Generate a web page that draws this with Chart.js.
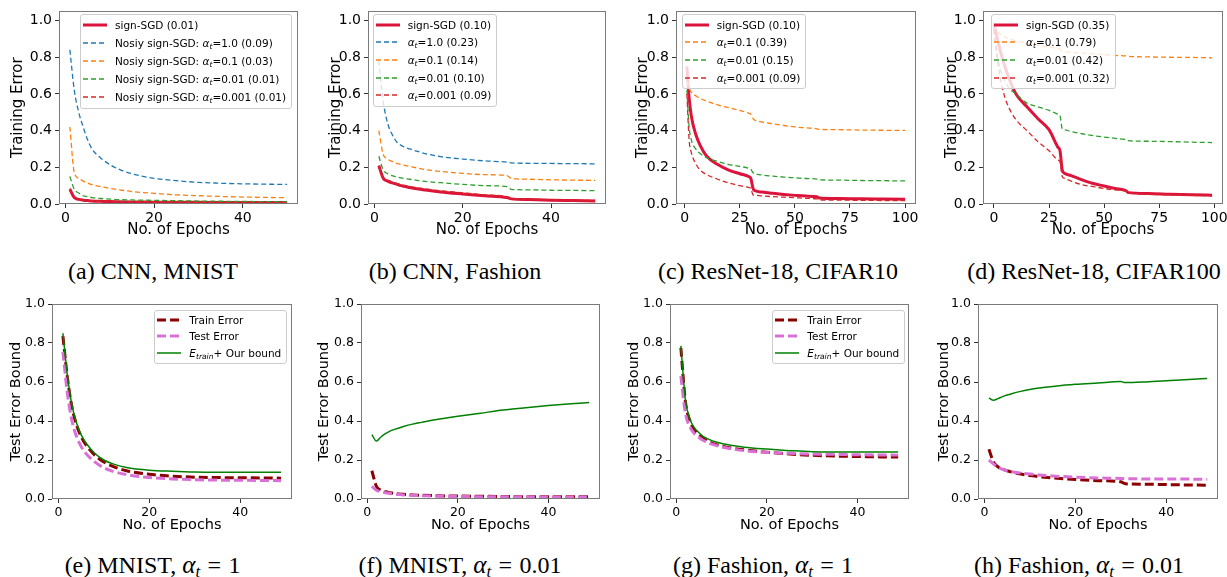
<!DOCTYPE html>
<html><head><meta charset="utf-8">
<script src="https://cdn.jsdelivr.net/npm/chart.js@4.4.0/dist/chart.umd.min.js"></script>
<style>
html,body{margin:0;padding:0;background:#fff;width:1227px;height:577px;overflow:hidden;position:relative;}
canvas{position:absolute;}
.cap{position:absolute;font-family:"Liberation Serif","Times New Roman",serif;font-size:24px;line-height:24px;white-space:nowrap;transform:translateX(-50%);color:#000;}
.cap sub{font-size:0.7em;vertical-align:-0.25em;line-height:0;}
.cap .al{font-size:1.05em;}
.cap .eq{display:inline-block;width:0.78em;text-align:center;margin:0 0.2em;}
.leg{position:absolute;background:rgba(255,255,255,0.8);border:1px solid #ccc;border-radius:3px;font-family:"DejaVu Sans",sans-serif;font-size:10.5px;color:#000;padding:1px 5px 2px 2px;}
.leg .row{display:flex;align-items:center;white-space:nowrap;}
.leg svg{margin-right:8px;flex:none;}
.leg sub{font-size:0.72em;vertical-align:-0.3em;line-height:0;}
</style></head><body>
<script>
// ---------- tick labels ----------
const xTicks50 = [0, 20, 40];
const xTicks100 = [0, 25, 50, 75, 100];
const yTicks = [0, 0.2, 0.4, 0.6, 0.8, 1.0];

// ---------- (a) CNN, MNIST ----------
const epochsA = [1,2,3,4,5,6,8,10,12,15,20,25,30,35,40,45,50];
const aSign  = [0.08,0.035,0.025,0.021,0.019,0.017,0.015,0.013,0.012,0.011,0.01,0.009,0.009,0.008,0.008,0.008,0.008];
const aN1    = [0.84,0.62,0.5,0.42,0.35,0.3,0.25,0.215,0.19,0.165,0.14,0.127,0.118,0.113,0.11,0.108,0.107];
const aN01   = [0.42,0.17,0.14,0.125,0.115,0.105,0.095,0.085,0.078,0.068,0.058,0.05,0.045,0.041,0.038,0.036,0.034];
const aN001  = [0.15,0.08,0.06,0.045,0.04,0.035,0.03,0.027,0.024,0.022,0.02,0.018,0.016,0.015,0.014,0.013,0.012];
const aN0001 = [0.085,0.04,0.028,0.022,0.019,0.017,0.015,0.013,0.012,0.011,0.01,0.01,0.009,0.009,0.009,0.008,0.008];
const labelsA = ['sign-SGD (0.01)','Nosiy sign-SGD: α_{t}=1.0 (0.09)','Nosiy sign-SGD: α_{t}=0.1 (0.03)','Nosiy sign-SGD: α_{t}=0.01 (0.01)','Nosiy sign-SGD: α_{t}=0.001 (0.01)'];

// ---------- (b) CNN, Fashion ----------
const epochsB = [1,2,3,4,5,6,8,10,12,15,20,25,30,31,35,40,45,50];
const bSign  = [0.21,0.14,0.125,0.115,0.108,0.1,0.09,0.082,0.075,0.066,0.055,0.045,0.035,0.028,0.024,0.021,0.019,0.017];
const bN1    = [0.78,0.56,0.44,0.38,0.34,0.32,0.3,0.285,0.272,0.258,0.245,0.235,0.228,0.224,0.222,0.221,0.22,0.219];
const bN01   = [0.4,0.27,0.245,0.232,0.222,0.215,0.205,0.195,0.186,0.178,0.167,0.16,0.155,0.14,0.135,0.132,0.13,0.129];
const bN001  = [0.26,0.185,0.165,0.155,0.148,0.142,0.135,0.128,0.122,0.116,0.107,0.1,0.095,0.08,0.077,0.075,0.074,0.073];
const bN0001 = [0.2,0.145,0.13,0.12,0.113,0.106,0.096,0.088,0.081,0.072,0.061,0.05,0.04,0.03,0.026,0.023,0.021,0.019];
const labelsB = ['sign-SGD (0.10)','α_{t}=1.0 (0.23)','α_{t}=0.1 (0.14)','α_{t}=0.01 (0.10)','α_{t}=0.001 (0.09)'];

// ---------- (c) ResNet-18, CIFAR10 ----------
const epochsC = [1,2,3,5,7,10,15,20,25,29,30,31,32,35,40,45,50,55,60,61,70,80,90,100];
const cSign  = [0.75,0.58,0.48,0.38,0.32,0.26,0.215,0.185,0.165,0.15,0.14,0.085,0.072,0.065,0.058,0.052,0.047,0.043,0.04,0.033,0.03,0.028,0.027,0.026];
const cN01   = [0.67,0.63,0.61,0.59,0.575,0.56,0.54,0.525,0.51,0.495,0.49,0.465,0.455,0.447,0.437,0.428,0.42,0.415,0.41,0.407,0.405,0.403,0.402,0.401];
const cN001  = [0.62,0.42,0.35,0.3,0.275,0.252,0.232,0.215,0.205,0.195,0.19,0.17,0.165,0.158,0.152,0.147,0.143,0.139,0.136,0.132,0.13,0.128,0.127,0.126];
const cN0001 = [0.6,0.35,0.28,0.22,0.185,0.16,0.135,0.115,0.1,0.09,0.085,0.05,0.048,0.044,0.04,0.037,0.034,0.031,0.028,0.022,0.021,0.02,0.019,0.018];
const labelsC = ['sign-SGD (0.10)','α_{t}=0.1 (0.39)','α_{t}=0.01 (0.15)','α_{t}=0.001 (0.09)'];

// ---------- (d) ResNet-18, CIFAR100 ----------
const epochsD = [0,1,2,3,5,7,10,15,20,25,29,30,31,32,35,40,45,50,55,60,61,70,80,90,99];
const dSign  = [0.98,0.93,0.88,0.83,0.75,0.68,0.6,0.53,0.465,0.405,0.31,0.29,0.185,0.168,0.155,0.132,0.112,0.098,0.085,0.072,0.062,0.057,0.053,0.05,0.048];
const dN01   = [0.98,0.95,0.935,0.925,0.91,0.9,0.89,0.875,0.865,0.855,0.848,0.845,0.835,0.832,0.828,0.823,0.818,0.814,0.81,0.807,0.805,0.802,0.8,0.799,0.797];
const dN001  = [0.95,0.85,0.78,0.73,0.67,0.63,0.6,0.55,0.53,0.51,0.49,0.48,0.41,0.405,0.395,0.383,0.373,0.365,0.358,0.35,0.345,0.342,0.34,0.337,0.335];
const dN0001 = [0.95,0.85,0.75,0.68,0.58,0.52,0.46,0.4,0.34,0.29,0.24,0.23,0.15,0.14,0.125,0.105,0.095,0.085,0.077,0.07,0.06,0.053,0.05,0.047,0.045];
const labelsD = ['sign-SGD (0.35)','α_{t}=0.1 (0.79)','α_{t}=0.01 (0.42)','α_{t}=0.001 (0.32)'];

// ---------- bottom row ----------
const labelsBound = ['Train Error','Test Error','E_{train}+ Our bound'];
const epochsE = [1,2,3,4,5,6,8,10,12,15,20,25,30,35,40,45,49];
// (e) MNIST, alpha=1
const eTrain = [0.835,0.62,0.47,0.38,0.32,0.28,0.225,0.19,0.167,0.145,0.127,0.117,0.112,0.11,0.109,0.108,0.107];
const eTest  = [0.755,0.54,0.4,0.32,0.27,0.235,0.19,0.16,0.142,0.125,0.11,0.103,0.099,0.097,0.096,0.095,0.094];
const eBound = [0.85,0.63,0.48,0.39,0.33,0.29,0.235,0.2,0.18,0.162,0.148,0.142,0.138,0.137,0.137,0.137,0.137];
// (f) MNIST, alpha=0.01
const fTrain = [0.145,0.065,0.045,0.037,0.032,0.028,0.024,0.021,0.019,0.017,0.015,0.014,0.013,0.012,0.012,0.011,0.011];
const fTest  = [0.065,0.045,0.038,0.032,0.028,0.025,0.021,0.019,0.017,0.015,0.013,0.012,0.011,0.011,0.01,0.01,0.01];
const fBound = [0.33,0.297,0.318,0.335,0.348,0.357,0.372,0.384,0.393,0.406,0.424,0.44,0.456,0.468,0.479,0.488,0.495];
// (g) Fashion, alpha=1
const gTrain = [0.775,0.5,0.4,0.355,0.33,0.31,0.285,0.272,0.262,0.252,0.24,0.231,0.224,0.22,0.218,0.216,0.215];
const gTest  = [0.63,0.44,0.37,0.335,0.315,0.3,0.28,0.267,0.258,0.248,0.239,0.234,0.231,0.229,0.227,0.226,0.225];
const gBound = [0.785,0.51,0.41,0.365,0.34,0.32,0.298,0.285,0.276,0.266,0.256,0.248,0.242,0.241,0.241,0.241,0.241];
// (h) Fashion, alpha=0.01
const epochsH = [1,2,3,4,5,6,8,10,12,15,20,25,30,31,35,40,45,49];
const hTrain = [0.255,0.19,0.165,0.153,0.145,0.138,0.128,0.12,0.115,0.108,0.1,0.094,0.088,0.078,0.076,0.074,0.072,0.071];
const hTest  = [0.2,0.18,0.163,0.152,0.145,0.14,0.133,0.128,0.123,0.118,0.112,0.108,0.105,0.104,0.103,0.102,0.102,0.101];
const hBound = [0.518,0.506,0.515,0.525,0.533,0.54,0.552,0.562,0.569,0.577,0.588,0.595,0.602,0.597,0.6,0.607,0.613,0.618];

const captions = ['(a) CNN, MNIST','(b) CNN, Fashion','(c) ResNet-18, CIFAR10','(d) ResNet-18, CIFAR100',
  '(e) MNIST, α_{t} = 1','(f) MNIST, α_{t} = 0.01','(g) Fashion, α_{t} = 1','(h) Fashion, α_{t} = 0.01'];

// ---------- styles ----------
const STY = {
  sign:  {color:'#dc143c', width:3,   dash:[]},
  blue:  {color:'#1f77b4', width:1.3, dash:[5,3]},
  orange:{color:'#ff7f0e', width:1.3, dash:[5,3]},
  green: {color:'#2ca02c', width:1.3, dash:[5,3]},
  red:   {color:'#d62728', width:1.3, dash:[5,3]},
  train: {color:'#8b0000', width:3,   dash:[9,4]},
  test:  {color:'#da70d6', width:3,   dash:[9,4]},
  bound: {color:'#008000', width:1.5, dash:[]}
};
const ROWS = [
  {aT:8,   aB:204, xTitleY:230, tick:14, title:15,   padTop:8,  ytext:'Training Error', capTop:259},
  {aT:304, aB:499, xTitleY:525, tick:12.5, title:14.5, padTop:12, ytext:'Test Error Bound', capTop:552.5}
];

const panels = [
  {row:0, x:epochsA, s:[aSign,aN1,aN01,aN001,aN0001], lab:labelsA, st:['sign','blue','orange','green','red'], xr:[-1.45,52.45], xt:xTicks50, yMax:1.05, aL:59, aR:298, ytx:18, leg:{l:80,t:14,rh:18}, cap:153},
  {row:0, x:epochsB, s:[bSign,bN1,bN01,bN001,bN0001], lab:labelsB, st:['sign','blue','orange','green','red'], xr:[-1.45,52.45], xt:xTicks50, yMax:1.05, aL:368, aR:606, ytx:336, leg:{l:372.7,t:14,rh:17.6}, cap:455},
  {row:0, x:epochsC, s:[cSign,cN01,cN001,cN0001], lab:labelsC, st:['sign','orange','green','red'], xr:[-3.95,104.95], xt:xTicks100, yMax:1.05, aL:676, aR:916, ytx:643, leg:{l:681.7,t:14,rh:17.6}, cap:778},
  {row:0, x:epochsD, s:[dSign,dN01,dN001,dN0001], lab:labelsD, st:['sign','orange','green','red'], xr:[-4.95,103.95], xt:xTicks100, yMax:1.05, aL:983, aR:1223, ytx:952, leg:{l:991,t:14,rh:17.6}, cap:1094},
  {row:1, x:epochsE, s:[eTrain,eTest,eBound], lab:labelsBound, st:['train','test','bound'], xr:[-1.4,51.4], xt:xTicks50, yMax:1.0, aL:52, aR:292, ytx:16.7, leg:{l:154.3,t:310,rh:16.3}, cap:152.5},
  {row:1, x:epochsE, s:[fTrain,fTest,fBound], lab:labelsBound, st:['train','test','bound'], xr:[-1.4,51.4], xt:xTicks50, yMax:1.0, aL:361, aR:600, ytx:325, leg:null, cap:460},
  {row:1, x:epochsE, s:[gTrain,gTest,gBound], lab:labelsBound, st:['train','test','bound'], xr:[-1.4,51.4], xt:xTicks50, yMax:1.0, aL:670, aR:909, ytx:635, leg:{l:772.3,t:310,rh:16.3}, cap:763},
  {row:1, x:epochsH, s:[hTrain,hTest,hBound], lab:labelsBound, st:['train','test','bound'], xr:[-1.4,51.4], xt:xTicks50, yMax:1.0, aL:978, aR:1218, ytx:945, leg:null, cap:1079}
];

function fmt(s){ return s.replace(/([A-Za-zα])_\{([^}]*)\}/g, '<i>$1</i><sub><i>$2</i></sub>'); }
function fmtCap(s){
  return s.replace(/α_\{([^}]*)\} = (\S+)/g, '<i class="al">α</i><sub><i>$1</i></sub><span class="eq">=</span>$2');
}

const framePlugin = {
  id:'frame',
  afterDatasetsDraw(chart){
    const a = chart.chartArea, ctx = chart.ctx;
    ctx.save();
    ctx.strokeStyle = '#7a7a7a'; ctx.lineWidth = 1;
    ctx.strokeRect(Math.round(a.left)+0.5, Math.round(a.top)+0.5, Math.round(a.right)-Math.round(a.left)-1, Math.round(a.bottom)-Math.round(a.top)-1);
    ctx.restore();
  }
};

panels.forEach((p, idx) => {
  const R = ROWS[p.row];
  const padR = 10;
  const halfT = R.title * 0.6;
  const cL = Math.round(p.ytx - halfT - 3);
  const cT = R.aT - R.padTop;
  const cW = p.aR + padR - cL;
  const cBottom = Math.round(R.xTitleY + halfT + 2);
  const cH = cBottom - cT;
  const yW = p.aL - cL;
  const xH = cBottom - R.aB;

  const cv = document.createElement('canvas');
  cv.width = cW; cv.height = cH;
  cv.style.left = cL + 'px'; cv.style.top = cT + 'px';
  cv.style.width = cW + 'px'; cv.style.height = cH + 'px';
  document.body.appendChild(cv);

  const n = p.s.length;
  const datasets = p.s.map((vals, i) => {
    const S = STY[p.st[i]];
    return {
      label: p.lab[i],
      data: p.x.map((e, k) => ({x: e, y: vals[k]})),
      borderColor: S.color, backgroundColor: S.color,
      borderWidth: S.width, borderDash: S.dash,
      pointRadius: 0, fill: false,
      cubicInterpolationMode: 'monotone',
      order: n - i
    };
  });

  const tickFont = {family:'DejaVu Sans', size:R.tick};
  const titleFont = {family:'DejaVu Sans', size:R.title};
  new Chart(cv, {
    type: 'line',
    data: {datasets},
    plugins: [framePlugin],
    options: {
      responsive: false, animation: false, devicePixelRatio: 1,
      layout: {padding: {top: R.padTop, right: padR, left: 0, bottom: 0}},
      plugins: {legend: {display:false}, tooltip: {enabled:false}},
      scales: {
        x: {
          type: 'linear', min: p.xr[0], max: p.xr[1],
          afterBuildTicks: s => { s.ticks = p.xt.map(v => ({value: v})); },
          afterFit: s => { s.height = xH; },
          ticks: {font: tickFont, color:'#000', padding: 2, maxRotation: 0, callback: v => String(v)},
          grid: {display:true, drawOnChartArea:false, drawTicks:true, tickLength:4, tickColor:'#333'},
          border: {display:false},
          title: {display:true, text:'No. of Epochs', font:titleFont, color:'#000', padding:{top:0, bottom:2}}
        },
        y: {
          type: 'linear', min: 0, max: p.yMax,
          afterBuildTicks: s => { s.ticks = yTicks.map(v => ({value: v})); },
          afterFit: s => { s.width = yW; },
          ticks: {font: tickFont, color:'#000', padding: 3, callback: v => Number(v).toFixed(1)},
          grid: {display:true, drawOnChartArea:false, drawTicks:true, tickLength:4, tickColor:'#333'},
          border: {display:false},
          title: {display:true, text:R.ytext, font:titleFont, color:'#000', padding:{top:3, bottom:0}}
        }
      }
    }
  });

  if (p.leg) {
    const lg = document.createElement('div');
    lg.className = 'leg';
    lg.style.left = p.leg.l + 'px'; lg.style.top = p.leg.t + 'px';
    p.lab.forEach((t, i) => {
      const S = STY[p.st[i]];
      const row = document.createElement('div');
      row.className = 'row'; row.style.height = p.leg.rh + 'px';
      row.innerHTML = `<svg width="24" height="10"><line x1="0" y1="5" x2="24" y2="5" stroke="${S.color}" stroke-width="${S.width}" ${S.dash.length ? `stroke-dasharray="${S.dash.join(' ')}"` : ''}/></svg><span>${fmt(t)}</span>`;
      lg.appendChild(row);
    });
    document.body.appendChild(lg);
  }

  const cap = document.createElement('div');
  cap.className = 'cap';
  cap.style.left = p.cap + 'px'; cap.style.top = R.capTop + 'px';
  cap.innerHTML = fmtCap(captions[idx]);
  document.body.appendChild(cap);
});
</script>
</body></html>
